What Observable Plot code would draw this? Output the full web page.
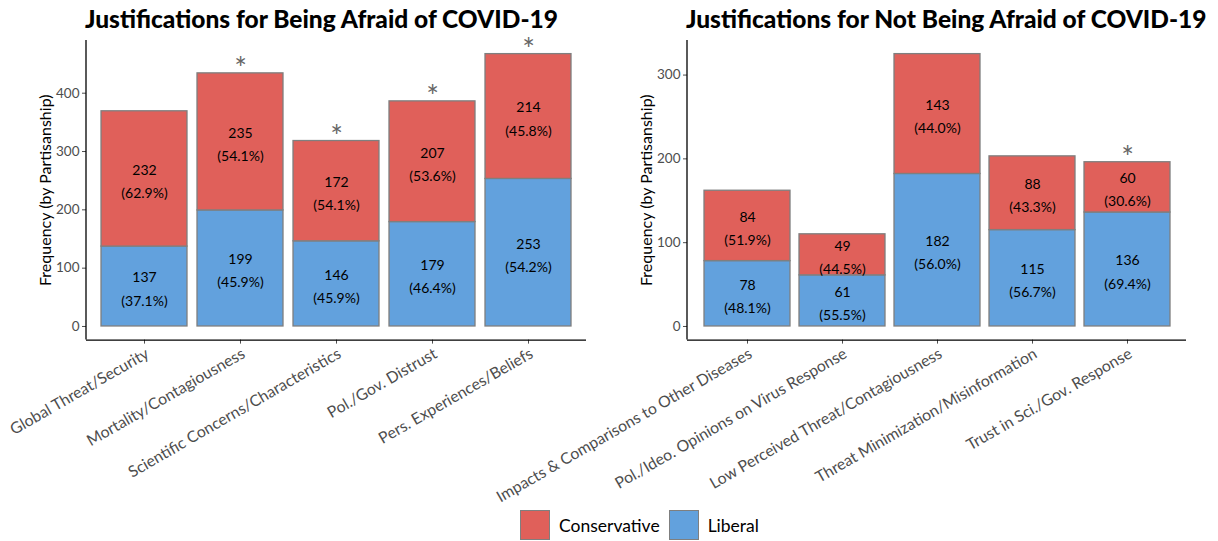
<!DOCTYPE html>
<html><head><meta charset="utf-8">
<script src="https://cdn.jsdelivr.net/npm/d3@7"></script>
<script src="https://cdn.jsdelivr.net/npm/@observablehq/plot@0.6"></script>
<style>
body{margin:0;background:#fff;font-family:Lato,"DejaVu Sans",sans-serif;}
#wrap{position:relative;width:1218px;height:541px;overflow:hidden;background:#fff;}
.panel{position:absolute;top:0;}
.title{position:absolute;top:4px;font-weight:900;font-size:24.5px;color:#000;white-space:nowrap;line-height:30px;}
#legend{position:absolute;left:520px;top:510px;display:flex;align-items:center;font-size:17.5px;color:#000;}
.sw{width:30px;height:30px;box-sizing:border-box;border:1.3px solid #7f7f7f;}
.lt{margin:0 9px 0 9px;}
</style></head>
<body><div id="wrap"></div>
<script>
const fearCategories = ["Global Threat/Security","Mortality/Contagiousness","Scientific Concerns/Characteristics","Pol./Gov. Distrust","Pers. Experiences/Beliefs"];
const fearConservative = [232,235,172,207,214];
const fearLiberal = [137,199,146,179,253];
const fearSignificant = [false,true,true,true,true];
const notFearCategories = ["Impacts & Comparisons to Other Diseases","Pol./Ideo. Opinions on Virus Response","Low Perceived Threat/Contagiousness","Threat Minimization/Misinformation","Trust in Sci./Gov. Response"];
const notFearConservative = [84,49,143,88,60];
const notFearLiberal = [78,61,182,115,136];
const notFearSignificant = [false,false,false,false,true];
const parties = ["Conservative","Liberal"];
const partyColors = ["#E0605A","#62A1DD"];
const fearTicks = [0,100,200,300,400];
const notFearTicks = [0,100,200,300];
const yLabel = "Frequency (by Partisanship)";
const fearTitle = "Justifications for Being Afraid of COVID-19";
const notFearTitle = "Justifications for Not Being Afraid of COVID-19";

const H = 505, axisBottom = 339.6, axisTop = 40;

function makePanel({cats, cons, lib, sig, ticks, width, marginLeft, marginRight}) {
  const rows = [];
  cats.forEach((c, i) => {
    const total = cons[i] + lib[i];
    rows.push({cat: c, party: "Liberal", value: lib[i], pct: (100 * lib[i] / total).toFixed(1)});
    rows.push({cat: c, party: "Conservative", value: cons[i], pct: (100 * cons[i] / total).toFixed(1)});
  });
  const totals = cats.map((c, i) => ({cat: c, total: cons[i] + lib[i], sig: sig[i]}));
  const maxT = d3.max(totals, d => d.total);
  const pad = maxT * 0.05;
  const yDomain = [-pad, maxT + pad];
  const order = ["Liberal", "Conservative"];
  const leftLine = (index, scales, values, dims) => {
    const l = d3.create("svg:line")
      .attr("x1", dims.marginLeft).attr("x2", dims.marginLeft)
      .attr("y1", dims.marginTop).attr("y2", dims.height - dims.marginBottom)
      .attr("stroke", "black").attr("stroke-width", 1.3);
    return l.node();
  };
  return Plot.plot({
    width, height: H, marginTop: axisTop, marginBottom: H - axisBottom, marginLeft, marginRight,
    style: {overflow: "visible", fontFamily: "Lato, sans-serif", background: "transparent"},
    x: {domain: cats, paddingInner: 0.1, paddingOuter: 0.15, label: null},
    y: {domain: yDomain, label: null},
    color: {domain: parties, range: partyColors},
    marks: [
      Plot.barY(rows, {x: "cat", y: "value", fill: "party", stroke: "#7f7f7f", strokeWidth: 1.3, order}),
      Plot.text(rows, Plot.stackY({x: "cat", y: "value", z: "party", order,
        text: d => `${d.value}\n(${d.pct}%)`, fontSize: 14, lineHeight: 1.66, fill: "black"})),
      Plot.text(totals.filter(d => d.sig), {x: "cat", y: "total", text: () => "*",
        fontSize: 30, fill: "#666", lineAnchor: "bottom", dy: 5.5}),
      Plot.axisY({ticks, tickSize: 4, tickPadding: 3, fontSize: 13.5, color: "#4d4d4d", label: null}),
      Plot.axisX({tickSize: 4, tickPadding: 3, tickRotate: -30, textAnchor: "end", lineAnchor: "top",
        fontSize: 15.8, color: "#4d4d4d", label: null}),
      Plot.ruleY([yDomain[0]], {stroke: "black", strokeWidth: 1.3}),
      leftLine,
      Plot.text([yLabel], {text: d => d, frameAnchor: "left", textAnchor: "middle", rotate: -90, dx: -41,
        fontSize: 16, fill: "black"})
    ]
  });
}

const wrap = document.getElementById("wrap");

const p1 = makePanel({cats: fearCategories, cons: fearConservative, lib: fearLiberal, sig: fearSignificant,
  ticks: fearTicks, width: 600, marginLeft: 86, marginRight: 14});
p1.classList.add("panel"); p1.style.left = "0px"; p1.style.position = "absolute";
wrap.appendChild(p1);

const p2 = makePanel({cats: notFearCategories, cons: notFearConservative, lib: notFearLiberal, sig: notFearSignificant,
  ticks: notFearTicks, width: 618, marginLeft: 87, marginRight: 32});
p2.classList.add("panel"); p2.style.left = "600px"; p2.style.position = "absolute";
wrap.appendChild(p2);

const t1 = document.createElement("div"); t1.className = "title"; t1.style.left = "85px"; t1.textContent = fearTitle; wrap.appendChild(t1);
const t2 = document.createElement("div"); t2.className = "title"; t2.style.left = "686px"; t2.textContent = notFearTitle; wrap.appendChild(t2);

const legend = document.createElement("div"); legend.id = "legend";
parties.forEach((p, i) => {
  const sw = document.createElement("div"); sw.className = "sw"; sw.style.background = partyColors[i];
  const lt = document.createElement("span"); lt.className = "lt"; lt.textContent = p;
  legend.appendChild(sw); legend.appendChild(lt);
});
wrap.appendChild(legend);
</script>
</body></html>
